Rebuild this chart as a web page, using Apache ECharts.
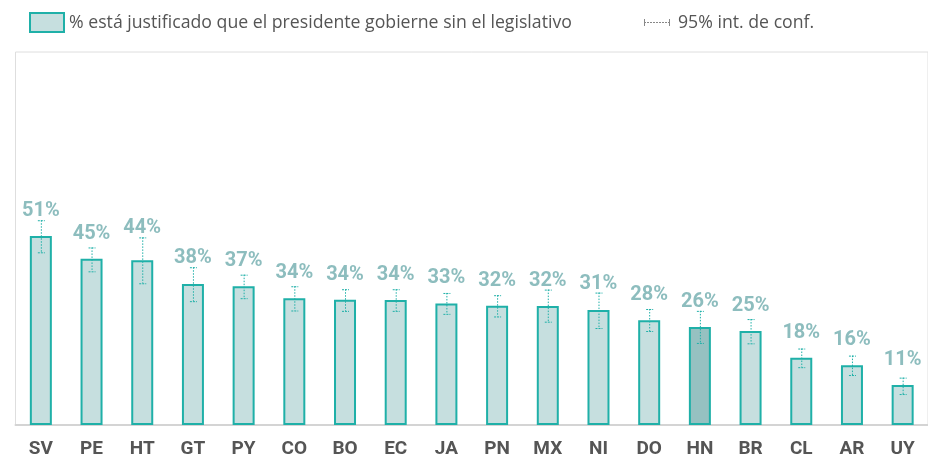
<!DOCTYPE html>
<html><head><meta charset="utf-8">
<script src="https://cdn.jsdelivr.net/npm/echarts@6/dist/echarts.min.js"></script>
<style>html,body{margin:0;padding:0;background:#fff}#c{width:928px;height:459px}</style>
</head><body><div id="c"></div>
<script>
const categories = ['SV','PE','HT','GT','PY','CO','BO','EC','JA','PN','MX','NI','DO','HN','BR','CL','AR','UY'];
const values     = [50.7, 44.6, 44.2, 37.8, 37.2, 34.0, 33.6, 33.5, 32.6, 32.0, 31.9, 30.8, 28.1, 26.3, 25.2, 18.0, 16.0, 10.7];
const ciLow      = [46.3, 41.2, 38.0, 33.2, 34.0, 30.7, 30.6, 30.6, 29.8, 29.1, 27.7, 26.0, 25.2, 22.0, 21.9, 15.5, 13.4, 8.3];
const ciHigh     = [54.9, 47.6, 50.3, 42.3, 40.3, 37.2, 36.4, 36.4, 35.4, 34.8, 36.3, 35.5, 31.1, 30.6, 28.4, 20.5, 18.6, 12.7];
const highlight  = 'HN';
const legendBar  = '% está justificado que el presidente gobierne sin el legislativo';
const legendCI   = '95% int. de conf.';

const TEAL = '#1fb0a8', FILL = '#c6dfdf', FILL_HI = '#96c1c1', LABEL = '#8dbdbe';
const chart = echarts.init(document.getElementById('c'), null, {renderer:'canvas'});

const barData = values.map((v,i)=>({
  value: v,
  itemStyle: { color: categories[i]===highlight ? FILL_HI : FILL }
}));
const errData = categories.map((c,i)=>[i, ciLow[i], ciHigh[i], values[i]]);

chart.setOption({
  animation:false,
  grid:{left:15.5, top:52, right:-8.6, bottom:31, show:true, borderColor:'#dedede', borderWidth:1, backgroundColor:'transparent'},
  xAxis:{type:'category', data:categories,
    axisLine:{show:true, lineStyle:{color:'#d4d4d4', width:2}},
    axisTick:{show:false},
    axisLabel:{color:'#555', fontFamily:'Roboto', fontWeight:'bold', fontSize:19, margin:15}},
  yAxis:{type:'value', min:0, max:100, show:false, splitLine:{show:false}},
  series:[
    {type:'bar', data:barData, barWidth:22,
     itemStyle:{borderColor:TEAL, borderWidth:2}},
    {type:'custom', data:errData, z:5,
     renderItem:function(params, api){
       const x = api.coord([api.value(0), 0])[0];
       const lo = api.coord([api.value(0), api.value(1)])[1];
       const hi = api.coord([api.value(0), api.value(2)])[1];
       const top = api.coord([api.value(0), api.value(3)])[1];
       const v = api.value(3);
       const labelY = Math.min(top - 25, hi - 9);
       const st = {stroke:TEAL, lineWidth:1, lineDash:[1.5,1.5]};
       return {type:'group', children:[
         {type:'line', shape:{x1:x+0.5, y1:hi, x2:x+0.5, y2:lo}, style:st},
         {type:'line', shape:{x1:x-3, y1:hi+0.5, x2:x+4, y2:hi+0.5}, style:{stroke:TEAL, lineWidth:1, lineDash:[2,1]}},
         {type:'line', shape:{x1:x-3, y1:lo+0.5, x2:x+4, y2:lo+0.5}, style:{stroke:TEAL, lineWidth:1, lineDash:[2,1]}},
         {type:'text', x:x, y:labelY, style:{text:Math.round(v)+'%', fill:LABEL, font:'bold 20px Roboto', textAlign:'center', textVerticalAlign:'middle'}}
       ]};
     }}
  ],
  graphic:[
    {type:'rect', shape:{x:30, y:13, width:34, height:19}, style:{fill:FILL, stroke:TEAL, lineWidth:2}},
    {type:'text', x:69, y:23, style:{text:legendBar, fill:'#555', font:'17.7px "Open Sans"', textVerticalAlign:'middle'}},
    {type:'line', shape:{x1:644, y1:22.5, x2:670, y2:22.5}, style:{stroke:'#888', lineWidth:1, lineDash:[2,1]}},
    {type:'line', shape:{x1:644.5, y1:19, x2:644.5, y2:26}, style:{stroke:'#888', lineWidth:1}},
    {type:'line', shape:{x1:669.5, y1:19, x2:669.5, y2:26}, style:{stroke:'#888', lineWidth:1}},
    {type:'text', x:678, y:23, style:{text:legendCI, fill:'#555', font:'17.7px "Open Sans"', textVerticalAlign:'middle'}}
  ]
});
</script></body></html>
